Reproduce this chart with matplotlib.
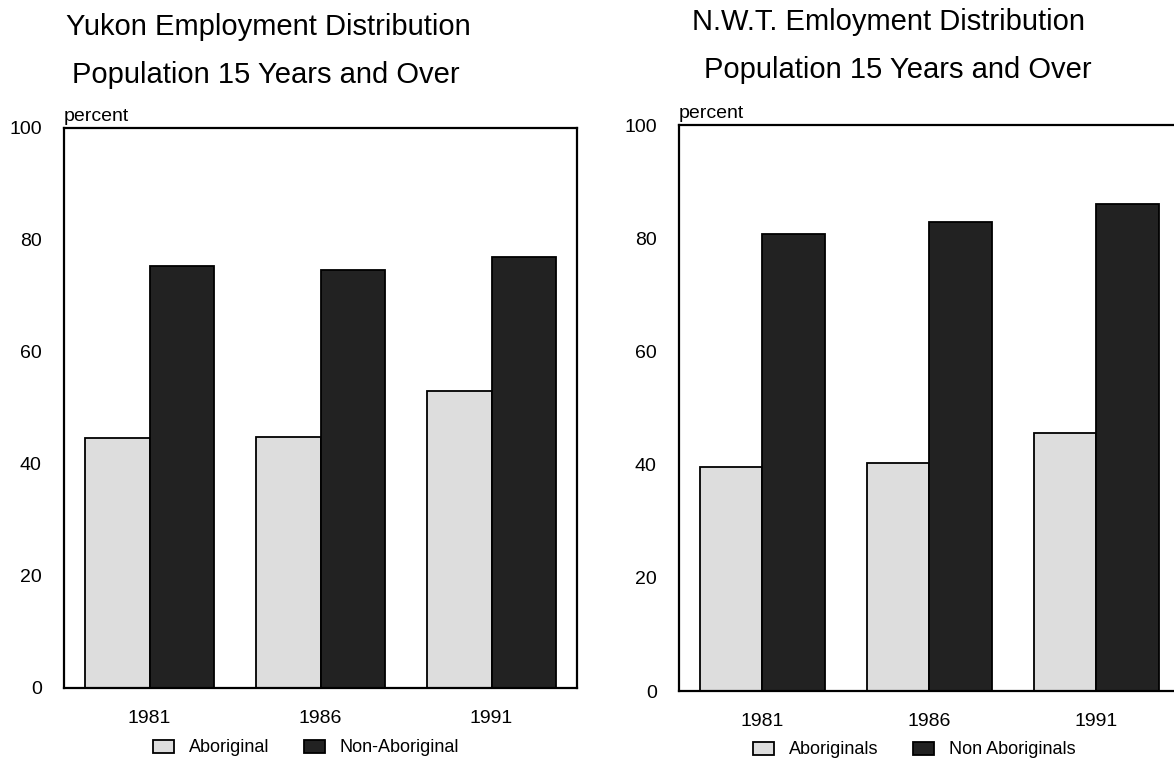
import numpy as np
import matplotlib.pyplot as plt
from matplotlib.patches import Patch

plt.rcParams['font.family'] = ['Liberation Sans', 'DejaVu Sans']

years = ['1981', '1986', '1991']
yukon_aboriginal = [44.7, 44.9, 53.1]
yukon_non_aboriginal = [75.4, 74.7, 77.0]
nwt_aboriginal = [39.5, 40.2, 45.5]
nwt_non_aboriginal = [80.7, 82.8, 86.0]

light = '#dddddd'
dark = '#222222'
w = 0.375

fig = plt.figure(figsize=(11.74, 7.61), dpi=100)
ax1 = fig.add_axes([64/1174, 1-688/761, 513/1174, 560/761])
ax2 = fig.add_axes([679/1174, 1-691/761, 501/1174, 566/761])

def draw(ax, a, b):
    x = np.arange(len(years))
    ax.bar(x - w/2, a, w, color=light, edgecolor='black', linewidth=1.3)
    ax.bar(x + w/2, b, w, color=dark, edgecolor='black', linewidth=1.3)
    ax.set_xlim(-0.5, 2.5)
    ax.set_ylim(0, 100)
    ax.set_xticks(x)
    ax.set_xticklabels(years)
    ax.set_yticks([0, 20, 40, 60, 80, 100])
    ax.tick_params(axis='x', length=0, pad=16, labelsize=14)
    ax.tick_params(axis='y', length=0, pad=16, labelsize=14)
    for s in ax.spines.values():
        s.set_linewidth(1.6)
    ax.text(0, 1.005, 'percent', transform=ax.transAxes, fontsize=14,
            ha='left', va='bottom')
    return [Patch(facecolor=light, edgecolor='black', linewidth=1.3),
            Patch(facecolor=dark, edgecolor='black', linewidth=1.3)]

h1 = draw(ax1, yukon_aboriginal, yukon_non_aboriginal)
h2 = draw(ax2, nwt_aboriginal, nwt_non_aboriginal)

fig.legend(h1, ['Aboriginal', 'Non-Aboriginal'], loc='center',
           bbox_to_anchor=(306/1174, 1-748/761), ncol=2, frameon=False,
           fontsize=13, handlelength=1.2, handleheight=0.7,
           handletextpad=0.8, columnspacing=1.9)
fig.legend(h2, ['Aboriginals', 'Non Aboriginals'], loc='center',
           bbox_to_anchor=(914/1174, 1-750/761), ncol=2, frameon=False,
           fontsize=13, handlelength=1.2, handleheight=0.7,
           handletextpad=0.8, columnspacing=1.9)

fig.text(268/1174, 1-27/761, 'Yukon Employment Distribution', fontsize=21,
         ha='center', va='center')
fig.text(266/1174, 1-75/761, 'Population 15 Years and Over', fontsize=21,
         ha='center', va='center')
fig.text(888/1174, 1-22/761, 'N.W.T. Emloyment Distribution', fontsize=21,
         ha='center', va='center')
fig.text(898/1174, 1-70/761, 'Population 15 Years and Over', fontsize=21,
         ha='center', va='center')

fig.savefig('out.png', dpi=100)
